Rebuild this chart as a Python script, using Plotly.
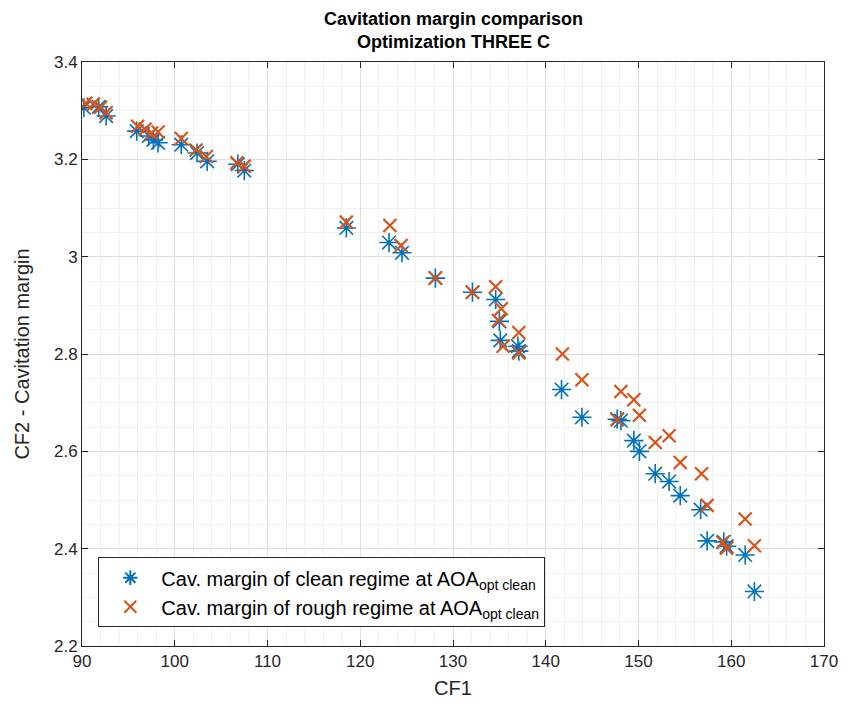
import plotly.graph_objects as go

clean_x = [90.2, 91.8, 92.6, 95.9, 97.2, 97.7, 98.2, 100.7, 102.4, 103.5, 106.8, 107.5,
           118.5, 123.1, 124.5, 128.1, 132.1, 134.6, 135.0, 135.1, 137.0, 137.1,
           141.7, 143.9, 147.7, 148.1, 149.5, 150.1, 151.8, 153.3, 154.5, 156.7,
           157.4, 159.2, 159.5, 161.5, 162.5]
clean_y = [3.306, 3.308, 3.289, 3.258, 3.248, 3.240, 3.234, 3.230, 3.213, 3.196, 3.190, 3.177,
           3.059, 3.029, 3.008, 2.956, 2.927, 2.912, 2.867, 2.828, 2.816, 2.806,
           2.727, 2.670, 2.666, 2.663, 2.622, 2.600, 2.554, 2.538, 2.509, 2.480,
           2.416, 2.414, 2.405, 2.387, 2.312]

rough_x = [90.4, 91.2, 92.0, 92.6, 96.0, 96.8, 97.5, 98.2, 100.7, 102.3, 103.4, 106.7, 107.5,
           118.5, 123.2, 124.4, 128.1, 132.1, 134.6, 135.2, 134.9, 135.4, 137.1, 137.1,
           141.8, 143.9, 148.1, 149.5, 150.1, 147.7, 151.8, 153.3, 154.5, 156.8,
           157.4, 159.1, 159.5, 161.5, 162.5]
rough_y = [3.315, 3.313, 3.307, 3.296, 3.268, 3.262, 3.254, 3.256, 3.243, 3.219, 3.206, 3.193, 3.186,
           3.071, 3.064, 3.023, 2.956, 2.927, 2.938, 2.893, 2.869, 2.816, 2.844, 2.802,
           2.800, 2.747, 2.723, 2.706, 2.674, 2.665, 2.618, 2.632, 2.577, 2.554,
           2.489, 2.413, 2.401, 2.461, 2.406]

x_ticks = [90, 100, 110, 120, 130, 140, 150, 160, 170]
y_ticks = [2.2, 2.4, 2.6, 2.8, 3.0, 3.2, 3.4]
y_tick_labels = ["2.2", "2.4", "2.6", "2.8", "3", "3.2", "3.4"]

FONT = "Liberation Sans, Arial, sans-serif"

fig = go.Figure()
fig.add_trace(go.Scatter(
    x=clean_x, y=clean_y, mode="markers",
    name="Cav. margin of clean regime at AOA<sub>opt clean</sub>",
    marker=dict(symbol="asterisk-open", size=16, color="#0072BD",
                line=dict(color="#0072BD", width=1.6)),
))
fig.add_trace(go.Scatter(
    x=rough_x, y=rough_y, mode="markers",
    name="Cav. margin of rough regime at AOA<sub>opt clean</sub>",
    marker=dict(symbol="x-thin-open", size=13, color="#D95319",
                line=dict(color="#D95319", width=2.2)),
))

axis_common = dict(
    showline=True, linecolor="#262626", linewidth=1, mirror="ticks",
    ticks="inside", ticklen=6, tickcolor="#262626",
    showgrid=True, gridcolor="#DFDFDF", gridwidth=1,
    zeroline=False,
    tickfont=dict(family=FONT, size=17, color="#262626"),
)

fig.update_xaxes(
    range=[90, 170], tickvals=x_ticks,
    minor=dict(dtick=2, showgrid=True, gridcolor="#F0F0F0", ticks=""),
    title=dict(text="CF1", font=dict(family=FONT, size=20, color="#262626"), standoff=10),
    **axis_common,
)
fig.update_yaxes(
    range=[2.2, 3.4], tickvals=y_ticks, ticktext=y_tick_labels,
    minor=dict(dtick=0.05, showgrid=True, gridcolor="#F0F0F0", ticks=""),
    title=dict(text="CF2 - Cavitation margin", font=dict(family=FONT, size=20, color="#262626"), standoff=18),
    **axis_common,
)

fig.add_annotation(
    text="<b>Cavitation margin comparison<br>Optimization THREE C</b>",
    xref="paper", yref="paper", x=0.5, y=1, xanchor="center", yanchor="bottom",
    yshift=8, showarrow=False,
    font=dict(family=FONT, size=18, color="black"),
)

fig.update_layout(
    width=850, height=711,
    margin=dict(l=82, r=20, t=62, b=65),
    paper_bgcolor="white", plot_bgcolor="white",
    legend=dict(
        x=0.022, y=0.152, xanchor="left", yanchor="top",
        bgcolor="white", bordercolor="#262626", borderwidth=1,
        font=dict(family=FONT, size=20, color="black"),
        itemsizing="constant", itemwidth=52,
    ),
    showlegend=True,
)

fig.write_html("out.html")
